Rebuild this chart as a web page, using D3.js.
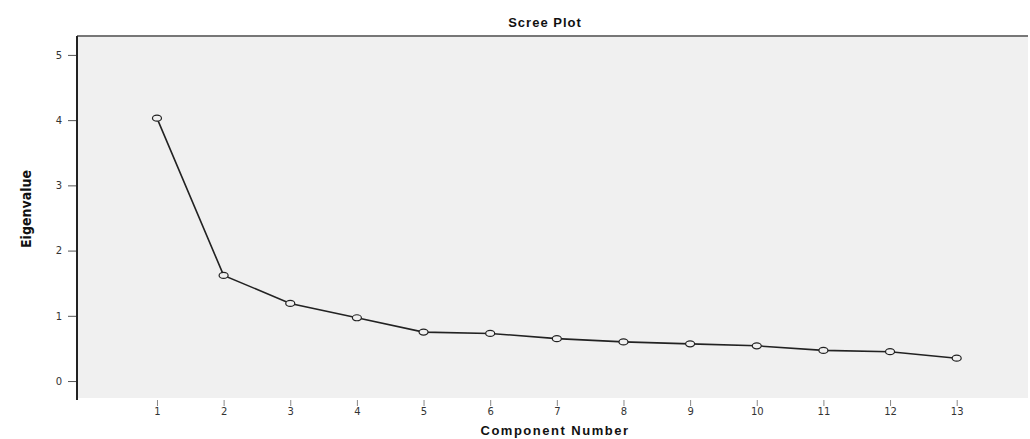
<!DOCTYPE html>
<html>
<head>
<meta charset="utf-8">
<script src="https://cdn.jsdelivr.net/npm/d3@7"></script>
<style>
    body { margin: 0; background: #fff; }
    .tick text { font-family: "DejaVu Sans", sans-serif; font-size: 10px; fill: #333; }
    .axisTitle { font-family: "Liberation Sans", Arial, sans-serif; font-weight: bold; fill: #111; }
</style>
</head>
<body>
<svg id="chart"></svg>
<script>
// scree plot values
const components = [1, 2, 3, 4, 5, 6, 7, 8, 9, 10, 11, 12, 13];
const eigenvalues = [4.03, 1.62, 1.19, 0.97, 0.75, 0.73, 0.65, 0.60, 0.57, 0.54, 0.47, 0.45, 0.35];
const yTicks = [0, 1, 2, 3, 4, 5];

const W = 1030, H = 439;
const margin = { top: 36, right: 2, bottom: 41, left: 77 };
const width = W - margin.left - margin.right;
const height = H - margin.top - margin.bottom;

const svg = d3.select("#chart").attr("width", W).attr("height", H);

const x = d3.scaleLinear().domain([-0.2, 14.07]).range([0, width]);
const y = d3.scaleLinear().domain([-0.26, 5.29]).range([height, 0]);

const g = svg.append("g")
    .attr("transform", "translate(" + margin.left + "," + margin.top + ")");

// plot background
g.append("rect")
    .attr("width", width)
    .attr("height", height)
    .attr("fill", "#f0f0f0");

// top border
g.append("line")
    .attr("x1", 0).attr("x2", width)
    .attr("y1", 0).attr("y2", 0)
    .attr("stroke", "#777").attr("stroke-width", 2);

// X axis (ticks below the panel, no domain line)
const xAxis = g.append("g")
    .attr("transform", "translate(0," + (height + 2) + ")")
    .call(d3.axisBottom(x).tickValues(components).tickSize(6).tickPadding(2).tickFormat(d3.format("d")));
xAxis.select(".domain").remove();
xAxis.selectAll(".tick line").attr("stroke", "#888");

// Y axis
const yAxis = g.append("g")
    .call(d3.axisLeft(y).tickValues(yTicks).tickSize(9).tickPadding(6).tickFormat(d3.format("d")));
yAxis.select(".domain").remove();
yAxis.selectAll(".tick line").attr("stroke", "#555");
g.append("line")
    .attr("x1", 0).attr("x2", 0)
    .attr("y1", 0).attr("y2", height + 2)
    .attr("stroke", "#222").attr("stroke-width", 2);

// line
g.append("path")
    .datum(eigenvalues)
    .attr("fill", "none")
    .attr("stroke", "#222")
    .attr("stroke-width", 1.6)
    .attr("d", d3.line()
        .x((d, i) => x(components[i]))
        .y(d => y(d)));

// markers
g.selectAll(".pt")
    .data(eigenvalues)
    .enter().append("ellipse")
    .attr("class", "pt")
    .attr("cx", (d, i) => x(components[i]))
    .attr("cy", d => y(d))
    .attr("rx", 4.5)
    .attr("ry", 3)
    .attr("fill", "#f0f0f0")
    .attr("stroke", "#222")
    .attr("stroke-width", 1.2);

// titles
svg.append("text")
    .attr("class", "axisTitle")
    .attr("x", 545).attr("y", 27)
    .attr("text-anchor", "middle")
    .style("font-size", "13px")
    .style("letter-spacing", "1px")
    .text("Scree Plot");

svg.append("text")
    .attr("class", "axisTitle")
    .attr("x", 555).attr("y", 435)
    .attr("text-anchor", "middle")
    .style("font-size", "13px")
    .style("letter-spacing", "1.5px")
    .text("Component Number");

svg.append("text")
    .attr("class", "axisTitle")
    .attr("transform", "translate(31,209) rotate(-90)")
    .attr("text-anchor", "middle")
    .style("font-family", "'Liberation Sans Narrow', 'DejaVu Sans Condensed', sans-serif")
    .style("font-size", "14px")
    .text("Eigenvalue");
</script>
</body>
</html>
